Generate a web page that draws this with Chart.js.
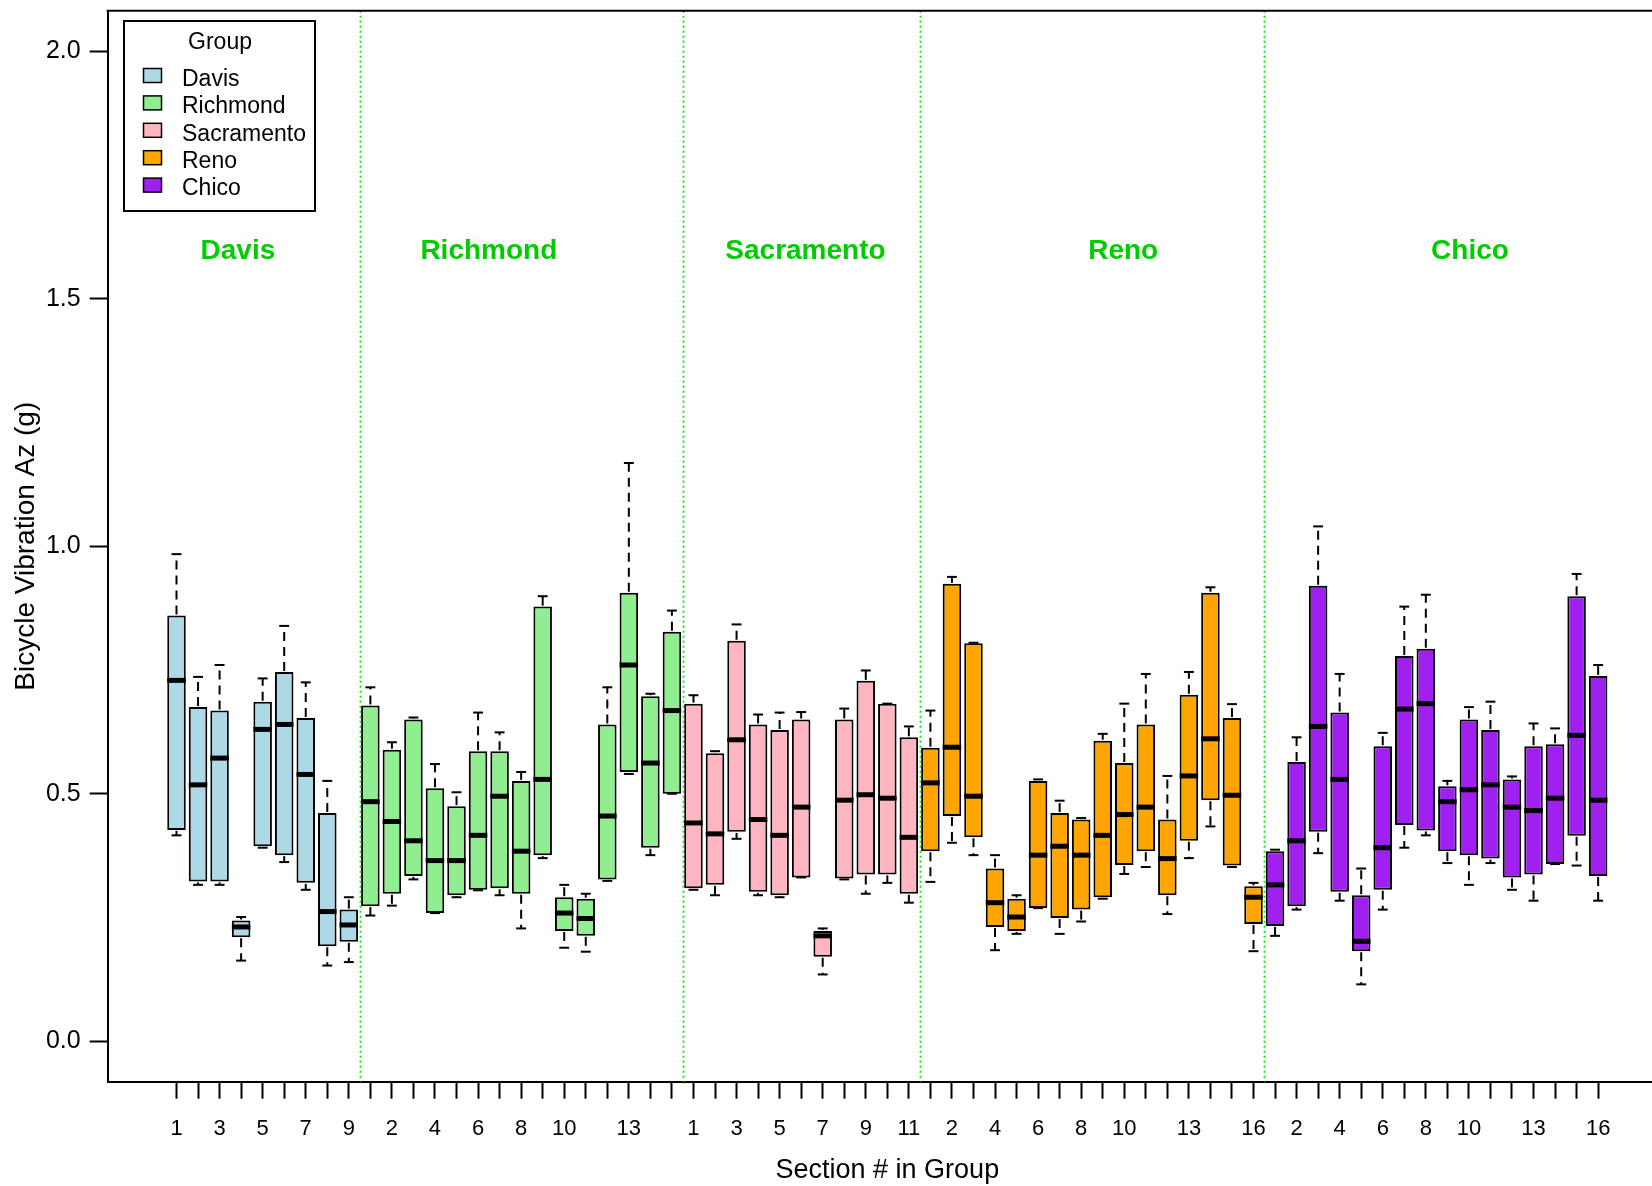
<!DOCTYPE html>
<html>
<head>
<meta charset="utf-8">
<script src="https://cdn.jsdelivr.net/npm/chart.js@4/dist/chart.umd.min.js"></script>
<style>
  html, body { margin: 0; padding: 0; background: #fff; overflow: hidden; }
  canvas { display: block; }
</style>
</head>
<body>
<canvas id="chart" width="1652" height="1186"></canvas>
<script>
// groups, colours and the five-number summaries (lower whisker, Q1, median, Q3, upper whisker)
const groupNames = ["Davis", "Richmond", "Sacramento", "Reno", "Chico"];
const groupColors = ["#ADD8E6", "#90EE90", "#FFB6C1", "#FFA500", "#A020F0"];

const davis = [
  [0.416, 0.427, 0.729, 0.860, 0.984],
  [0.316, 0.323, 0.518, 0.675, 0.736],
  [0.316, 0.323, 0.572, 0.668, 0.760],
  [0.163, 0.210, 0.231, 0.244, 0.251],
  [0.391, 0.394, 0.630, 0.686, 0.733],
  [0.362, 0.376, 0.640, 0.746, 0.839],
  [0.306, 0.320, 0.539, 0.653, 0.725],
  [0.153, 0.192, 0.262, 0.461, 0.526],
  [0.160, 0.201, 0.235, 0.266, 0.291],
];
const richmond = [
  [0.254, 0.273, 0.484, 0.678, 0.715],
  [0.274, 0.298, 0.444, 0.589, 0.604],
  [0.327, 0.334, 0.405, 0.650, 0.654],
  [0.259, 0.259, 0.365, 0.511, 0.560],
  [0.291, 0.295, 0.365, 0.475, 0.503],
  [0.305, 0.306, 0.416, 0.586, 0.664],
  [0.295, 0.309, 0.495, 0.586, 0.624],
  [0.228, 0.298, 0.384, 0.526, 0.544],
  [0.370, 0.376, 0.529, 0.878, 0.899],
  [0.189, 0.223, 0.259, 0.291, 0.316],
  [0.181, 0.213, 0.248, 0.288, 0.298],
  [0.324, 0.327, 0.455, 0.640, 0.715],
  [0.540, 0.544, 0.760, 0.906, 1.168],
  [0.376, 0.391, 0.562, 0.697, 0.702],
  [0.500, 0.500, 0.668, 0.827, 0.870],
];
const sacramento = [
  [0.306, 0.309, 0.441, 0.682, 0.699],
  [0.295, 0.316, 0.419, 0.582, 0.586],
  [0.409, 0.423, 0.609, 0.809, 0.842],
  [0.295, 0.302, 0.448, 0.640, 0.660],
  [0.291, 0.295, 0.416, 0.629, 0.664],
  [0.331, 0.331, 0.473, 0.650, 0.665],
  [0.135, 0.171, 0.213, 0.223, 0.228],
  [0.327, 0.329, 0.487, 0.650, 0.672],
  [0.298, 0.337, 0.498, 0.728, 0.749],
  [0.320, 0.337, 0.491, 0.682, 0.682],
  [0.280, 0.298, 0.412, 0.614, 0.636],
];
const reno = [
  [0.322, 0.384, 0.522, 0.593, 0.668],
  [0.401, 0.455, 0.594, 0.924, 0.938],
  [0.376, 0.412, 0.495, 0.804, 0.805],
  [0.184, 0.231, 0.280, 0.349, 0.376],
  [0.217, 0.223, 0.251, 0.288, 0.295],
  [0.269, 0.269, 0.376, 0.526, 0.529],
  [0.217, 0.249, 0.394, 0.461, 0.486],
  [0.242, 0.266, 0.376, 0.448, 0.451],
  [0.288, 0.291, 0.416, 0.607, 0.621],
  [0.338, 0.356, 0.458, 0.562, 0.682],
  [0.352, 0.384, 0.473, 0.640, 0.742],
  [0.257, 0.295, 0.369, 0.448, 0.536],
  [0.370, 0.405, 0.536, 0.700, 0.746],
  [0.434, 0.487, 0.611, 0.906, 0.917],
  [0.352, 0.355, 0.497, 0.653, 0.681],
  [0.182, 0.237, 0.291, 0.313, 0.320],
];
const chico = [
  [0.213, 0.233, 0.316, 0.384, 0.387],
  [0.266, 0.273, 0.405, 0.564, 0.614],
  [0.380, 0.423, 0.636, 0.920, 1.040],
  [0.284, 0.302, 0.529, 0.664, 0.742],
  [0.115, 0.182, 0.202, 0.295, 0.349],
  [0.266, 0.306, 0.391, 0.596, 0.623],
  [0.391, 0.437, 0.671, 0.778, 0.878],
  [0.416, 0.426, 0.682, 0.793, 0.902],
  [0.360, 0.384, 0.484, 0.515, 0.526],
  [0.316, 0.376, 0.508, 0.650, 0.675],
  [0.360, 0.369, 0.518, 0.629, 0.686],
  [0.306, 0.331, 0.473, 0.529, 0.535],
  [0.284, 0.337, 0.466, 0.596, 0.642],
  [0.358, 0.358, 0.491, 0.600, 0.632],
  [0.355, 0.415, 0.618, 0.899, 0.944],
  [0.284, 0.334, 0.487, 0.738, 0.760],
];
const groupStats = [davis, richmond, sacramento, reno, chico];

// section numbers that get a printed tick label (the rest are dropped, as in the original)
const labelledSections = [
  [1, 3, 5, 7, 9],
  [2, 4, 6, 8, 10, 13],
  [1, 3, 5, 7, 9, 11],
  [2, 4, 6, 8, 10, 13, 16],
  [2, 4, 6, 8, 10, 13, 16],
];
const yTicks = [0, 0.5, 1.0, 1.5, 2.0];
// where the green group titles sit (x in box positions, y in g)
const groupTitleX = [3.85, 15.5, 30.2, 44.95, 61.05];
const groupTitleY = 1.595;
// the x title is centred on the full plot width, part of which is cut off at the right
const xTitleAt = 34;

// build positions 1..n and the tick labels
const positions = [];
const tickLabels = [];
const separators = [];
let pos = 0;
groupStats.forEach((g, gi) => {
  g.forEach((s, i) => {
    pos++;
    positions.push(pos);
    tickLabels.push(labelledSections[gi].includes(i + 1) ? String(i + 1) : "");
  });
  if (gi < groupStats.length - 1) separators.push(pos + 0.5);
});

let start = 0;
const datasets = groupStats.map((g, gi) => {
  const ds = {
    label: groupNames[gi],
    data: g.map((s, i) => ({ x: start + i + 1, y: [s[1], s[3]], stats: s })),
    backgroundColor: groupColors[gi],
    borderColor: "#000",
    borderWidth: 2,
    borderSkipped: false,
    grouped: false,
    categoryPercentage: 1,
    barPercentage: 0.86,
  };
  start += g.length;
  return ds;
});

const FONT = "'Liberation Sans', Arial, Helvetica, sans-serif";
Chart.defaults.font.family = FONT;
Chart.defaults.color = "#000";

const boxPlugin = {
  id: "boxParts",
  beforeDatasetsDraw(chart) {
    const { ctx, chartArea } = chart;
    const xs = chart.scales.x;
    ctx.save();
    // dotted group separators
    ctx.strokeStyle = "#00EE00";
    ctx.lineWidth = 1.8;
    ctx.setLineDash([2, 3]);
    separators.forEach((v) => {
      const px = Math.round(xs.getPixelForValue(v)) + 0.5;
      ctx.beginPath();
      ctx.moveTo(px, chartArea.top);
      ctx.lineTo(px, chartArea.bottom);
      ctx.stroke();
    });
    ctx.restore();
  },
  afterDatasetsDraw(chart) {
    const { ctx } = chart;
    const xs = chart.scales.x;
    const ys = chart.scales.y;
    const halfBox = 0.43;
    const halfStaple = 0.23;
    ctx.save();
    ctx.strokeStyle = "#000";
    chart.data.datasets.forEach((ds) => {
      ds.data.forEach((d) => {
        const [lo, q1, med, q3, hi] = d.stats;
        const cx = xs.getPixelForValue(d.x);
        // whiskers (dashed)
        ctx.lineWidth = 2;
        ctx.setLineDash([9, 6]);
        if (hi > q3) {
          ctx.beginPath();
          ctx.moveTo(cx, ys.getPixelForValue(q3) - 1);
          ctx.lineTo(cx, ys.getPixelForValue(hi));
          ctx.stroke();
        }
        if (lo < q1) {
          ctx.beginPath();
          ctx.moveTo(cx, ys.getPixelForValue(q1) + 1);
          ctx.lineTo(cx, ys.getPixelForValue(lo));
          ctx.stroke();
        }
        // staples
        ctx.setLineDash([]);
        [lo, hi].forEach((v) => {
          const py = ys.getPixelForValue(v);
          ctx.beginPath();
          ctx.moveTo(xs.getPixelForValue(d.x - halfStaple), py);
          ctx.lineTo(xs.getPixelForValue(d.x + halfStaple), py);
          ctx.stroke();
        });
        // median
        ctx.lineWidth = 5;
        ctx.lineCap = "butt";
        const my = ys.getPixelForValue(med);
        ctx.beginPath();
        ctx.moveTo(xs.getPixelForValue(d.x - halfBox), my);
        ctx.lineTo(xs.getPixelForValue(d.x + halfBox), my);
        ctx.stroke();
      });
    });

    // green group titles
    ctx.fillStyle = "#00CD00";
    ctx.font = "bold 28px " + FONT;
    ctx.textAlign = "center";
    ctx.textBaseline = "middle";
    groupNames.forEach((name, i) => {
      ctx.fillText(name, xs.getPixelForValue(groupTitleX[i]), ys.getPixelForValue(groupTitleY));
    });
    ctx.restore();
  },
  afterDraw(chart) {
    const { ctx, chartArea } = chart;
    const xs = chart.scales.x;
    ctx.save();
    // top line of the plot frame
    ctx.strokeStyle = "#000";
    ctx.lineWidth = 2;
    ctx.beginPath();
    ctx.moveTo(chartArea.left - 1, chartArea.top);
    ctx.lineTo(chartArea.right, chartArea.top);
    ctx.stroke();

    // x axis title
    ctx.fillStyle = "#000";
    ctx.font = "27px " + FONT;
    ctx.textAlign = "center";
    ctx.textBaseline = "middle";
    ctx.fillText("Section # in Group", xs.getPixelForValue(xTitleAt), 1171);

    // legend box
    ctx.strokeRect(124, 21, 191, 190);
    ctx.font = "23px " + FONT;
    ctx.fillText("Group", 220, 43);
    ctx.textAlign = "left";
    groupNames.forEach((name, i) => {
      const cy = 75.5 + i * 27.4;
      ctx.fillStyle = groupColors[i];
      ctx.fillRect(143.5, cy - 7, 18, 14);
      ctx.lineWidth = 1.5;
      ctx.strokeRect(143.5, cy - 7, 18, 14);
      ctx.fillStyle = "#000";
      ctx.fillText(name, 182, cy + 4);
    });
    ctx.restore();
  },
};

new Chart(document.getElementById("chart"), {
  type: "bar",
  data: { datasets },
  options: {
    responsive: false,
    animation: false,
    devicePixelRatio: 1,
    layout: { padding: { top: 10.7, right: 0, bottom: 0, left: 0 } },
    plugins: { legend: { display: false }, tooltip: { enabled: false } },
    scales: {
      x: {
        type: "linear",
        offset: false,
        min: -2.194,
        max: 69.5,
        afterBuildTicks: (scale) => {
          scale.ticks = positions.map((v) => ({ value: v }));
        },
        afterFit: (scale) => {
          scale.height = 104.3;
          scale.paddingLeft = 0;
          scale.paddingRight = 0;
        },
        grid: { offset: false, drawOnChartArea: false, drawTicks: true, tickLength: 17, tickColor: "#000", tickWidth: 2 },
        border: { display: true, color: "#000", width: 2 },
        ticks: {
          autoSkip: false,
          maxRotation: 0,
          minRotation: 0,
          padding: 17,
          font: { size: 22 },
          color: "#000",
          callback: (v, i) => tickLabels[i],
        },
        title: { display: false },
      },
      y: {
        type: "linear",
        min: -0.0816,
        max: 2.0816,
        afterBuildTicks: (scale) => {
          scale.ticks = yTicks.map((v) => ({ value: v }));
        },
        afterFit: (scale) => {
          scale.width = 107.7;
          scale.paddingTop = 0;
          scale.paddingBottom = 0;
        },
        grid: { drawOnChartArea: false, drawTicks: true, tickLength: 18, tickColor: "#000", tickWidth: 2 },
        border: { display: true, color: "#000", width: 2 },
        ticks: {
          padding: 9,
          font: { size: 25 },
          color: "#000",
          callback: (v) => Number(v).toFixed(1),
        },
        title: {
          display: true,
          text: "Bicycle Vibration Az (g)",
          font: { size: 28 },
          color: "#000",
          padding: { top: 9, bottom: 0 },
        },
      },
    },
  },
  plugins: [boxPlugin],
});
</script>
</body>
</html>
